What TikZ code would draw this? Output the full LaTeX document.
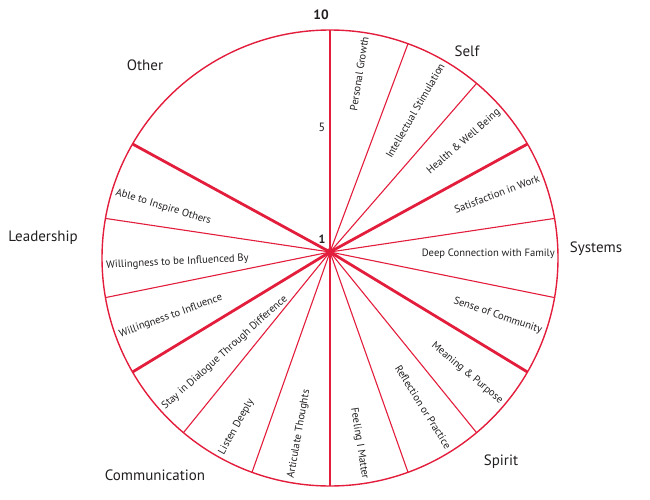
\documentclass[tikz,border=0pt]{standalone}
\usepackage{fontspec}
\setmainfont{PT Sans}
\usepackage{xcolor}
\usepackage{tikz}
\usetikzlibrary{calc}

\definecolor{wheelred}{HTML}{E31D3C}
\definecolor{ink}{HTML}{231F20}

\begin{document}
\begin{tikzpicture}[x=1pt, y=1pt]
    % Styles
    \tikzstyle{rim} = [draw=wheelred, line width=1.4pt]
    \tikzstyle{spoke} = [draw=wheelred, line width=1.1pt]
    \tikzstyle{major} = [draw=wheelred, line width=2.8pt]
    \tikzstyle{item} = [text=ink, inner sep=0pt, font=\fontsize{10.6}{12}\selectfont]
    \tikzstyle{area} = [text=ink, font=\fontsize{15}{17}\selectfont]
    \tikzstyle{tick} = [text=ink, font=\fontsize{12}{14}\selectfont]

    \useasboundingbox (0,0) rectangle (650,499);
    \coordinate (ctr) at (330,241);

    % Wheel
    \node [circle, fill=wheelred, inner sep=0pt, minimum size=8pt] (hub) at (330,247) {};
    \draw [rim] (ctr) circle (228);
    \foreach \a in {70,50,10,-10,-50,-70,-110,-130,-170,170}
        \draw [spoke] (hub.center) -- ($(ctr)+(\a:228)$);
    \foreach \a in {90,30,-30,-90,-150,150}
        \draw [major] (hub.center) -- ($(ctr)+(\a:228)$);

    % Scale
    \node [tick, font=\fontsize{13.5}{15}\selectfont\bfseries] (ten) at (321,484) {10};
    \node [tick] (five) at (322,372) {5};
    \node [tick, font=\fontsize{12}{14}\selectfont\bfseries] (one) at (322,260) {1};

    % Areas
    \node [area] (self) at (467,448) {Self};
    \node [area] (systems) at (596,250) {Systems};
    \node [area] (spirit) at (501,37) {Spirit};
    \node [area] (communication) at (155,24) {Communication};
    \node [area] (leadership) at (43,261) {Leadership};
    \node [area] (other) at (145,434) {Other};

    % Items, right half
    \node [item, rotate=81, anchor=east] (growth) at ($(ctr)+(81:224)$) {Personal Growth};
    \node [item, rotate=60, anchor=east] (intellect) at ($(ctr)+(60:224)$) {Intellectual Stimulation};
    \node [item, rotate=41, anchor=east] (health) at ($(ctr)+(41:224)$) {Health \& Well Being};
    \node [item, rotate=21, anchor=east] (work) at ($(ctr)+(21:224)$) {Satisfaction in Work};
    \node [item, rotate=0, anchor=east] (family) at ($(ctr)+(1:225)$) {Deep Connection with Family};
    \node [item, rotate=-19, anchor=east] (community) at ($(ctr)+(-19:224)$) {Sense of Community};
    \node [item, rotate=-40, anchor=east] (meaning) at ($(ctr)+(-40:224)$) {Meaning \& Purpose};
    \node [item, rotate=-58, anchor=east] (reflection) at ($(ctr)+(-58:224)$) {Reflection or Practice};
    \node [item, rotate=-81, anchor=east] (matter) at ($(ctr)+(-81:224)$) {Feeling I Matter};

    % Items, left half
    \node [item, rotate=80, anchor=west] (articulate) at ($(ctr)+(-100:224)$) {Articulate Thoughts};
    \node [item, rotate=61, anchor=west] (listen) at ($(ctr)+(-119:224)$) {Listen Deeply};
    \node [item, rotate=42, anchor=west] (dialogue) at ($(ctr)+(-138:224)$) {Stay in Dialogue Through Difference};
    \node [item, rotate=20, anchor=west] (influence) at ($(ctr)+(-160:224)$) {Willingness to Influence};
    \node [item, rotate=3, anchor=west] (influenced) at ($(ctr)+(-178:224)$) {Willingness to be Influenced By};
    \node [item, rotate=-17, anchor=west] (inspire) at ($(ctr)+(163:224)$) {Able to Inspire Others};
\end{tikzpicture}
\end{document}
